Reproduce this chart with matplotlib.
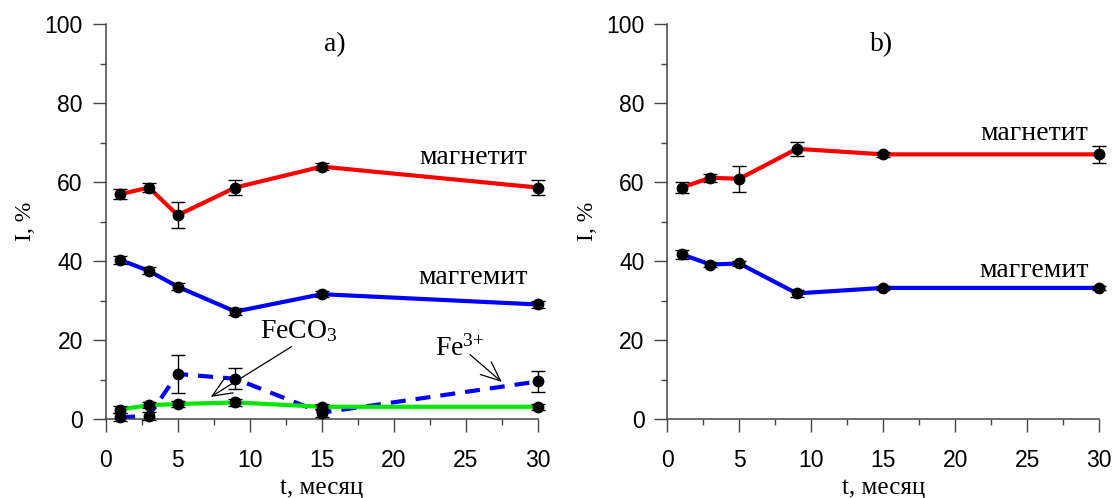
import matplotlib
matplotlib.use("Agg")
import matplotlib.pyplot as plt
from matplotlib.ticker import MultipleLocator

SERIF = "Liberation Serif"
SANS = "Liberation Sans"
plt.rcParams["mathtext.fontset"] = "custom"
plt.rcParams["mathtext.rm"] = SERIF
plt.rcParams["mathtext.it"] = SERIF
plt.rcParams["mathtext.default"] = "rm"

# storage time, months
t = [1, 3, 5, 9, 15, 30]

# a) relative intensities, %
a_magnetite = [56.9, 58.6, 51.6, 58.6, 63.9, 58.6]
a_magnetite_err = [1.3, 1.1, 3.3, 1.8, 0.8, 1.9]
a_maghemite = [40.3, 37.5, 33.5, 27.2, 31.6, 29.0]
a_maghemite_err = [1.0, 0.9, 0.9, 0.9, 0.8, 0.8]
a_feco3 = [2.4, 3.5, 3.8, 4.2, 3.1, 3.1]
a_feco3_err = [0.8, 0.7, 0.7, 0.8, 0.7, 0.7]
a_fe3 = [0.4, 0.85, 11.4, 10.2, 1.6, 9.5]
a_fe3_err = [1.0, 1.0, 4.9, 2.6, 1.0, 2.7]

# b) relative intensities, %
b_magnetite = [58.6, 61.1, 60.8, 68.4, 67.0, 67.0]
b_magnetite_err = [1.3, 1.0, 3.3, 1.8, 0.6, 2.1]
b_maghemite = [41.7, 39.1, 39.4, 31.8, 33.2, 33.2]
b_maghemite_err = [1.1, 0.7, 0.7, 0.8, 0.6, 0.6]

fig = plt.figure(figsize=(11.17, 4.98), dpi=100)
ax_a = fig.add_axes([0.0946, 0.1586, 0.3868, 0.7932])
ax_b = fig.add_axes([0.5974, 0.1586, 0.3865, 0.7932])

ARROW = dict(arrowstyle="->,head_length=0.7,head_width=0.3", color="black",
             lw=0.9, shrinkA=0, shrinkB=0, mutation_scale=20)


def series(ax, y, err, color, ls="-"):
    if ls == "--":
        ax.plot(t, y, color=color, lw=3.0, ls="--", dashes=(3.6, 2.4), zorder=2)
    else:
        ax.plot(t, y, color=color, lw=3.0, zorder=2)
    ax.errorbar(t, y, yerr=err, fmt="o", color="black", ms=7.5,
                ecolor="black", elinewidth=1.0, capsize=5, capthick=1.0,
                zorder=3, clip_on=False)


def style(ax):
    ax.set_xlim(0, 30)
    ax.set_ylim(0, 100)
    ax.xaxis.set_major_locator(MultipleLocator(5))
    ax.xaxis.set_minor_locator(MultipleLocator(2.5))
    ax.yaxis.set_major_locator(MultipleLocator(20))
    ax.yaxis.set_minor_locator(MultipleLocator(10))
    for side in ("top", "right"):
        ax.spines[side].set_visible(False)
    for side in ("left", "bottom"):
        ax.spines[side].set_color("#444444")
        ax.spines[side].set_linewidth(1.1)
    ax.tick_params(which="major", direction="out", length=9.5, width=1.0,
                   color="#444444", labelsize=16.5)
    ax.tick_params(which="minor", direction="out", length=4.5, width=1.0,
                   color="#444444")
    ax.tick_params(axis="x", which="major", pad=12)
    ax.tick_params(axis="y", which="major", pad=7)
    for lab in ax.get_xticklabels() + ax.get_yticklabels():
        lab.set_fontfamily(SANS)
    ax.set_xlabel("t, месяц", fontfamily=SERIF, fontsize=18, labelpad=4)
    ax.set_ylabel("I, %", fontfamily=SERIF, fontsize=17, labelpad=6)


# panel a
series(ax_a, a_magnetite, a_magnetite_err, "#ff0000")
series(ax_a, a_maghemite, a_maghemite_err, "#0000ff")
series(ax_a, a_fe3, a_fe3_err, "#0000ff", ls="--")
series(ax_a, a_feco3, a_feco3_err, "#00e600")
style(ax_a)
ax_a.text(15.9, 94.7, "a)", fontfamily=SERIF, fontsize=20,
          ha="center", va="center")
ax_a.text(25.5, 66.3, "магнетит", fontfamily=SERIF, fontsize=20,
          ha="center", va="center")
ax_a.text(25.5, 35.7, "маггемит", fontfamily=SERIF, fontsize=20,
          ha="center", va="center")
ax_a.text(13.4, 22.3, r"FeCO$_3$", fontfamily=SERIF, fontsize=20,
          ha="center", va="center")
ax_a.annotate("", xy=(7.3, 5.6), xytext=(12.9, 18.3), arrowprops=ARROW)
ax_a.text(24.6, 17.8, r"Fe$^{3{+}}$", fontfamily=SERIF, fontsize=20,
          ha="center", va="center")
ax_a.annotate("", xy=(27.5, 9.4), xytext=(25.3, 16.3), arrowprops=ARROW)

# panel b
series(ax_b, b_magnetite, b_magnetite_err, "#ff0000")
series(ax_b, b_maghemite, b_maghemite_err, "#0000ff")
style(ax_b)
ax_b.text(14.9, 94.7, "b)", fontfamily=SERIF, fontsize=20,
          ha="center", va="center")
ax_b.text(25.5, 72.4, "магнетит", fontfamily=SERIF, fontsize=20,
          ha="center", va="center")
ax_b.text(25.5, 37.5, "маггемит", fontfamily=SERIF, fontsize=20,
          ha="center", va="center")

fig.savefig("out.png", dpi=100)
